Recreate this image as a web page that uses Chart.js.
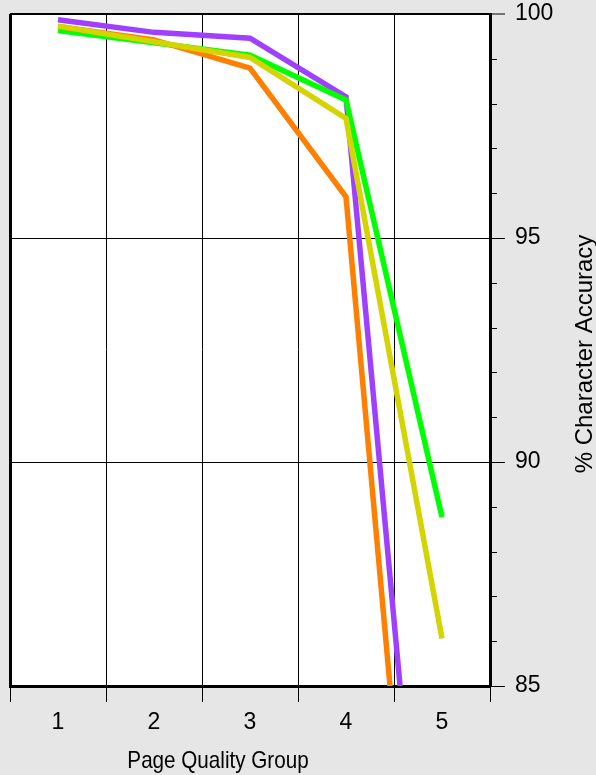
<!DOCTYPE html>
<html>
<head>
<meta charset="utf-8">
<script src="https://cdn.jsdelivr.net/npm/chart.js@4"></script>
<style>
  html, body { margin: 0; padding: 0; background: #e6e6e6; }
  canvas { display: block; }
</style>
</head>
<body>
<canvas id="accuracyChart" width="596" height="775"></canvas>
<script>
// page quality groups on the x axis
const groups = [1, 2, 3, 4, 5];
// % character accuracy per group, one list per line
const purpleSeries = [99.87, 99.59, 99.46, 98.15, 74.8];
const greenSeries = [99.63, 99.36, 99.08, 98.08, 88.77];
const orangeSeries = [99.72, 99.42, 98.79, 95.92, 72.1];
const yellowSeries = [99.73, 99.38, 99.03, 97.67, 86.06];
// y axis labelled ticks and range
const yTicks = [85, 90, 95, 100];
const xTitle = 'Page Quality Group';
const yTitle = '% Character Accuracy';

const FONT = "'Liberation Sans', Arial, sans-serif";

function toPoints(values) {
  return groups.map((g, i) => ({ x: g, y: values[i] }));
}

// background, minor ticks and axis titles
const decorations = {
  id: 'decorations',
  beforeDraw(chart) {
    const { ctx, chartArea: a } = chart;
    ctx.save();
    ctx.fillStyle = '#e6e6e6';
    ctx.fillRect(0, 0, chart.width, chart.height);
    ctx.fillStyle = '#ffffff';
    ctx.fillRect(a.left, a.top, a.right - a.left, a.bottom - a.top);
    ctx.restore();
  },
  afterDraw(chart) {
    const { ctx, chartArea: a } = chart;
    const y = chart.scales.y;
    ctx.save();
    // left border of the plot
    ctx.strokeStyle = '#000';
    ctx.lineWidth = 3;
    ctx.beginPath();
    ctx.moveTo(a.left + 0.5, a.top);
    ctx.lineTo(a.left + 0.5, a.bottom);
    ctx.stroke();
    // minor ticks on the right axis
    ctx.lineWidth = 1;
    for (let v = yTicks[0]; v <= yTicks[yTicks.length - 1]; v++) {
      if (v % 5 === 0) continue;
      const py = Math.round(y.getPixelForValue(v)) + 0.5;
      ctx.beginPath();
      ctx.moveTo(a.right, py);
      ctx.lineTo(a.right + 7, py);
      ctx.stroke();
    }
    ctx.fillStyle = '#000';
    // x title
    ctx.font = '24px ' + FONT;
    ctx.textAlign = 'center';
    ctx.textBaseline = 'alphabetic';
    ctx.save();
    ctx.translate(218, 768);
    ctx.scale(0.86, 1);
    ctx.fillText(xTitle, 0, 0);
    ctx.restore();
    // y title, reading bottom to top
    ctx.font = '24px ' + FONT;
    ctx.translate(592, (a.top + a.bottom) / 2 + 4);
    ctx.rotate(-Math.PI / 2);
    ctx.fillText(yTitle, 0, 0);
    ctx.restore();
  }
};

const ctx = document.getElementById('accuracyChart').getContext('2d');
new Chart(ctx, {
  type: 'line',
  data: {
    datasets: [
      { label: 'Purple', data: toPoints(purpleSeries), borderColor: '#a040ff', order: 3 },
      { label: 'Green', data: toPoints(greenSeries), borderColor: '#00ff00', order: 2 },
      { label: 'Orange', data: toPoints(orangeSeries), borderColor: '#ff8000', order: 1 },
      { label: 'Yellow', data: toPoints(yellowSeries), borderColor: '#d4d400', order: 0 }
    ].map(d => Object.assign(d, {
      borderWidth: 5.5,
      pointRadius: 0,
      tension: 0,
      fill: false,
      borderJoinStyle: 'miter'
    }))
  },
  options: {
    responsive: false,
    animation: false,
    devicePixelRatio: 1,
    layout: { padding: { left: 10, top: 14, right: 0, bottom: 0 } },
    plugins: {
      legend: { display: false },
      tooltip: { enabled: false },
      title: { display: false }
    },
    scales: {
      x: {
        type: 'linear',
        position: 'bottom',
        min: groups[0] - 0.5,
        max: groups[groups.length - 1] + 0.5,
        afterBuildTicks(scale) {
          const t = [];
          groups.forEach(g => { t.push({ value: g - 0.5 }); t.push({ value: g }); });
          t.push({ value: groups[groups.length - 1] + 0.5 });
          scale.ticks = t;
        },
        afterFit(scale) {
          scale.height = 89;
          scale.paddingLeft = 0;
          scale.paddingRight = 0;
        },
        ticks: {
          autoSkip: false,
          maxRotation: 0,
          padding: 7,
          color: '#000',
          font: { size: 23, family: FONT },
          callback: v => Number.isInteger(v) ? String(v) : ''
        },
        grid: {
          color: c => Number.isInteger(c.tick.value) ? 'rgba(0,0,0,0)' : '#000',
          tickColor: c => Number.isInteger(c.tick.value) ? 'rgba(0,0,0,0)' : '#000',
          lineWidth: 1,
          tickLength: 16,
          tickWidth: 1
        },
        border: { display: true, color: '#000', width: 3 }
      },
      y: {
        position: 'right',
        min: yTicks[0],
        max: yTicks[yTicks.length - 1],
        afterBuildTicks(scale) {
          scale.ticks = yTicks.map(v => ({ value: v }));
        },
        afterFit(scale) {
          scale.width = 106;
          scale.paddingTop = 0;
          scale.paddingBottom = 0;
        },
        ticks: {
          autoSkip: false,
          padding: 10,
          color: '#000',
          font: { size: 23, family: FONT }
        },
        grid: {
          color: c => c.tick.value === yTicks[0] ? 'rgba(0,0,0,0)' : '#000',
          lineWidth: c => c.tick.value === yTicks[yTicks.length - 1] ? 2 : 1,
          tickColor: '#000',
          tickLength: 15,
          tickWidth: 1
        },
        border: { display: true, color: '#000', width: 3 }
      }
    }
  },
  plugins: [decorations]
});
</script>
</body>
</html>
